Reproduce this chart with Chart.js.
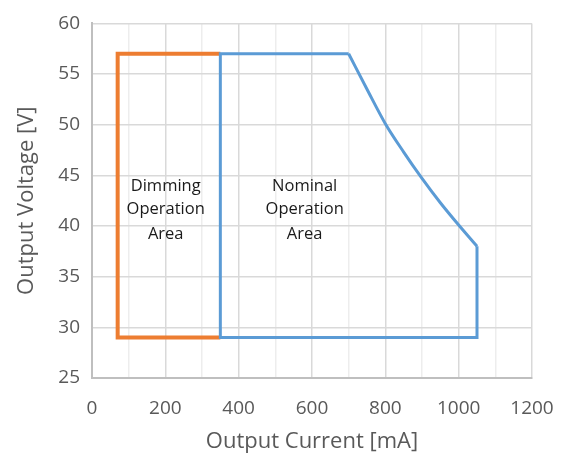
<!DOCTYPE html>
<html>
<head>
<meta charset="utf-8">
<script src="https://cdn.jsdelivr.net/npm/chart.js@4/dist/chart.umd.min.js"></script>
<style>
    html, body { margin: 0; padding: 0; background: #fff; }
</style>
</head>
<body>
<canvas id="chart" width="568" height="463"></canvas>
<script>
// Operation areas (current in mA, voltage in V)
const dimmingCurrent = [350, 70, 70, 350]
const dimmingVoltage = [57, 57, 29, 29]

// nominal area: straight edges + derating curve
const nominalEdgeCurrent = [700, 350, 350, 1050, 1050]
const nominalEdgeVoltage = [57, 57, 29, 29, 38]
const deratingCurrent = [700, 750, 800, 850, 900, 950, 1000, 1050]
const deratingVoltage = [57, 53.5, 50.1, 47.3, 44.7, 42.3, 40.1, 38]

const areaLabels = [
    { x: 201, lines: ['Dimming', 'Operation', 'Area'] },
    { x: 580, lines: ['Nominal', 'Operation', 'Area'] }
]
const labelRows = [43.93, 41.68, 39.2]

const toPoints = (xs, ys) => xs.map((x, i) => ({ x, y: ys[i] }))

const FONT = "'Open Sans', sans-serif"
const BLUE = '#5B9BD5'

const areaText = {
    id: 'areaText',
    afterDatasetsDraw(chart) {
        const { ctx, scales: { x, y } } = chart
        ctx.save()
        ctx.font = `16.5px ${FONT}`
        ctx.fillStyle = '#1a1a1a'
        ctx.textAlign = 'center'
        ctx.textBaseline = 'middle'
        areaLabels.forEach(lbl => {
            lbl.lines.forEach((line, i) => {
                ctx.fillText(line, x.getPixelForValue(lbl.x), y.getPixelForValue(labelRows[i]))
            })
        })
        ctx.restore()
    }
}

new Chart('chart', {
    type: 'scatter',
    data: {
        datasets: [
            {
                data: toPoints(nominalEdgeCurrent, nominalEdgeVoltage),
                showLine: true,
                borderColor: BLUE,
                borderWidth: 3,
                pointRadius: 0,
                borderJoinStyle: 'miter',
                tension: 0
            },
            {
                data: toPoints(deratingCurrent, deratingVoltage),
                showLine: true,
                borderColor: BLUE,
                borderWidth: 3,
                pointRadius: 0,
                cubicInterpolationMode: 'monotone'
            },
            {
                data: toPoints(dimmingCurrent, dimmingVoltage),
                showLine: true,
                borderColor: '#ED7D31',
                borderWidth: 4,
                pointRadius: 0,
                borderJoinStyle: 'miter',
                tension: 0
            }
        ]
    },
    options: {
        responsive: false,
        animation: false,
        layout: { padding: { top: 15, right: 36, left: 0, bottom: 0 } },
        plugins: {
            legend: { display: false },
            tooltip: { enabled: false }
        },
        scales: {
            x: {
                type: 'linear',
                min: 0,
                max: 1200,
                afterFit: scale => {
                    scale.height = 85
                    scale.paddingRight = 0
                    scale.paddingLeft = 0
                },
                ticks: {
                    stepSize: 100,
                    autoSkip: false,
                    maxRotation: 0,
                    padding: 19,
                    color: '#595959',
                    font: { family: FONT, size: 19 },
                    callback: v => v % 200 === 0 ? v : ''
                },
                grid: {
                    drawTicks: false,
                    lineWidth: 1.5,
                    color: ctx => ctx.tick && ctx.tick.value % 200 === 0 ? '#d9d9d9' : '#ededed'
                },
                border: { color: '#bfbfbf', width: 2 },
                title: {
                    display: true,
                    text: 'Output Current [mA]',
                    color: '#595959',
                    font: { family: FONT, size: 22 },
                    padding: { top: 4, bottom: 8 }
                }
            },
            y: {
                min: 25,
                max: 60,
                afterFit: scale => { scale.width = 92 },
                ticks: {
                    stepSize: 5,
                    padding: 12,
                    color: '#595959',
                    font: { family: FONT, size: 19 }
                },
                grid: {
                    drawTicks: false,
                    lineWidth: 1.5,
                    color: '#d9d9d9'
                },
                border: { color: '#bfbfbf', width: 2 },
                title: {
                    display: true,
                    text: 'Output Voltage [V]',
                    color: '#595959',
                    font: { family: FONT, size: 22 },
                    padding: { top: 14, bottom: 0 }
                }
            }
        }
    },
    plugins: [areaText]
})
</script>
</body>
</html>
